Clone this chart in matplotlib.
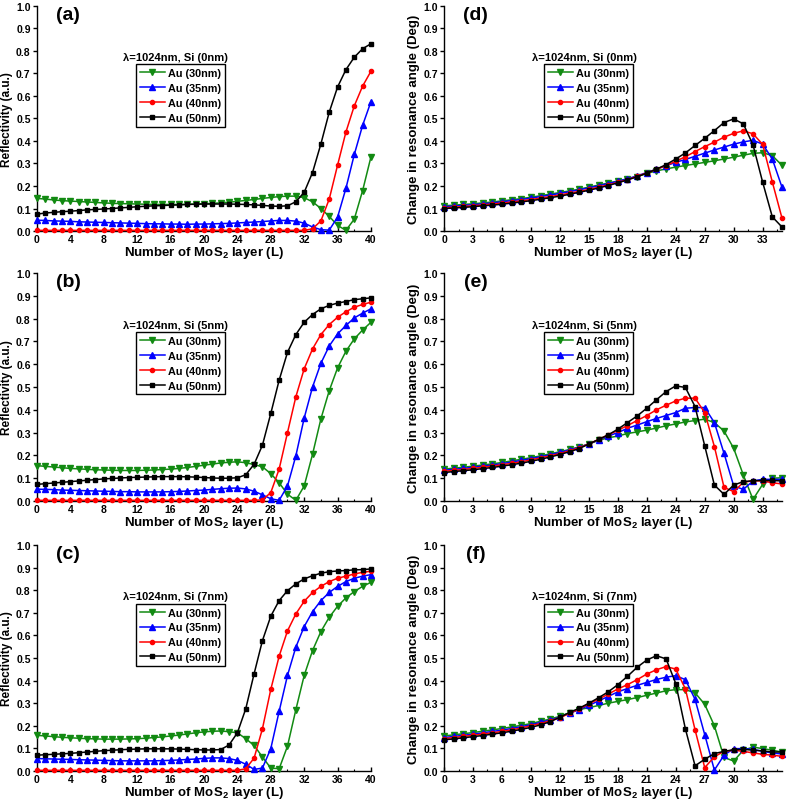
import matplotlib
matplotlib.use("Agg")
import matplotlib.pyplot as plt
from matplotlib.ticker import MultipleLocator

plt.rcParams['font.family'] = ['Liberation Sans', 'DejaVu Sans']
plt.rcParams['font.weight'] = 'bold'
plt.rcParams['axes.labelweight'] = 'bold'
plt.rcParams['mathtext.fontset'] = 'custom'
plt.rcParams['mathtext.rm'] = 'Liberation Sans:bold'
plt.rcParams['mathtext.bf'] = 'Liberation Sans:bold'
plt.rcParams['mathtext.default'] = 'bf'

# layers
layers_r = list(range(41))
layers_a = list(range(36))

labels = ["Au (30nm)", "Au (35nm)", "Au (40nm)", "Au (50nm)"]
si_labels = ["Si (0nm)", "Si (5nm)", "Si (7nm)"]

# ---- reflectivity, Si 0nm (a)
refl_a_30 = [0.145, 0.142, 0.138, 0.135, 0.133, 0.131, 0.129, 0.127, 0.125, 0.123,
             0.122, 0.121, 0.120, 0.119, 0.118, 0.118, 0.118, 0.118, 0.119, 0.120,
             0.121, 0.123, 0.125, 0.128, 0.132, 0.136, 0.140, 0.145, 0.149, 0.153,
             0.155, 0.155, 0.148, 0.130, 0.100, 0.065, 0.025, 0.003, 0.053, 0.180, 0.330]
refl_a_35 = [0.048, 0.047, 0.045, 0.044, 0.043, 0.041, 0.040, 0.039, 0.038, 0.037,
             0.036, 0.035, 0.034, 0.033, 0.032, 0.032, 0.031, 0.031, 0.030, 0.031,
             0.031, 0.032, 0.033, 0.034, 0.036, 0.038, 0.040, 0.042, 0.045, 0.047,
             0.047, 0.044, 0.035, 0.018, 0.006, 0.004, 0.062, 0.190, 0.340, 0.470, 0.575]
refl_a_40 = [0.003] * 33 + [0.010, 0.045, 0.142, 0.293, 0.440, 0.556, 0.644, 0.710]
refl_a_50 = [0.075, 0.080, 0.083, 0.086, 0.088, 0.091, 0.094, 0.096, 0.098, 0.100,
             0.103, 0.105, 0.108, 0.110, 0.112, 0.113, 0.115, 0.116, 0.118, 0.119,
             0.120, 0.120, 0.120, 0.120, 0.119, 0.118, 0.116, 0.114, 0.111, 0.110,
             0.112, 0.130, 0.172, 0.260, 0.387, 0.528, 0.640, 0.717, 0.772, 0.810, 0.832]

# ---- reflectivity, Si 5nm (b)
refl_b_30 = [0.155, 0.152, 0.149, 0.146, 0.143, 0.141, 0.139, 0.137, 0.136, 0.135,
             0.134, 0.134, 0.134, 0.135, 0.136, 0.138, 0.140, 0.143, 0.147, 0.152,
             0.157, 0.162, 0.167, 0.170, 0.172, 0.168, 0.160, 0.150, 0.120, 0.080,
             0.030, 0.003, 0.066, 0.205, 0.360, 0.484, 0.584, 0.657, 0.711, 0.750, 0.784]
refl_b_35 = [0.052, 0.051, 0.050, 0.048, 0.047, 0.046, 0.045, 0.044, 0.043, 0.042,
             0.041, 0.041, 0.040, 0.040, 0.040, 0.040, 0.041, 0.042, 0.044, 0.046,
             0.048, 0.051, 0.054, 0.056, 0.057, 0.053, 0.043, 0.027, 0.010, 0.003,
             0.066, 0.198, 0.364, 0.500, 0.604, 0.680, 0.733, 0.770, 0.803, 0.824, 0.843]
refl_b_40 = [0.003] * 27 + [0.005, 0.037, 0.140, 0.300, 0.457, 0.580, 0.667, 0.730,
                            0.774, 0.806, 0.830, 0.850, 0.862, 0.872]
refl_b_50 = [0.073, 0.076, 0.079, 0.082, 0.085, 0.088, 0.091, 0.094, 0.097, 0.099,
             0.101, 0.103, 0.104, 0.105, 0.106, 0.107, 0.107, 0.107, 0.106, 0.105,
             0.103, 0.101, 0.100, 0.100, 0.102, 0.115, 0.161, 0.245, 0.384, 0.530,
             0.652, 0.730, 0.784, 0.818, 0.843, 0.858, 0.868, 0.875, 0.883, 0.887, 0.891]

# ---- reflectivity, Si 7nm (c)
refl_c_30 = [0.158, 0.155, 0.152, 0.149, 0.147, 0.145, 0.143, 0.142, 0.141, 0.141,
             0.141, 0.142, 0.143, 0.145, 0.148, 0.151, 0.155, 0.159, 0.164, 0.169,
             0.173, 0.176, 0.177, 0.174, 0.169, 0.143, 0.113, 0.062, 0.013, 0.010,
             0.110, 0.271, 0.423, 0.533, 0.617, 0.680, 0.729, 0.766, 0.794, 0.817, 0.835]
refl_c_35 = [0.055, 0.054, 0.053, 0.052, 0.051, 0.050, 0.049, 0.048, 0.047, 0.046,
             0.045, 0.045, 0.045, 0.045, 0.045, 0.046, 0.047, 0.049, 0.051, 0.053,
             0.056, 0.058, 0.058, 0.055, 0.047, 0.030, 0.007, 0.013, 0.099, 0.264,
             0.423, 0.548, 0.639, 0.705, 0.754, 0.790, 0.817, 0.838, 0.853, 0.862, 0.869]
refl_c_40 = [0.003] * 25 + [0.010, 0.057, 0.187, 0.361, 0.508, 0.620, 0.695, 0.751,
                            0.790, 0.817, 0.838, 0.853, 0.862, 0.872, 0.879, 0.884]
refl_c_50 = [0.070, 0.072, 0.074, 0.076, 0.078, 0.081, 0.084, 0.087, 0.090, 0.092,
             0.094, 0.096, 0.097, 0.098, 0.098, 0.098, 0.098, 0.097, 0.096, 0.094,
             0.093, 0.093, 0.095, 0.115, 0.169, 0.275, 0.430, 0.577, 0.685, 0.754,
             0.798, 0.828, 0.850, 0.864, 0.875, 0.882, 0.885, 0.887, 0.890, 0.891, 0.894]

# ---- resonance angle shift, Si 0nm (d)
ang_d_30 = [0.112, 0.115, 0.118, 0.121, 0.125, 0.129, 0.134, 0.139, 0.144, 0.150,
            0.157, 0.164, 0.171, 0.178, 0.186, 0.195, 0.204, 0.213, 0.222, 0.232,
            0.242, 0.256, 0.267, 0.276, 0.284, 0.291, 0.298, 0.305, 0.312, 0.320,
            0.328, 0.337, 0.345, 0.348, 0.335, 0.292]
ang_d_35 = [0.108, 0.111, 0.114, 0.117, 0.121, 0.125, 0.130, 0.135, 0.140, 0.146,
            0.153, 0.160, 0.167, 0.175, 0.183, 0.192, 0.201, 0.211, 0.221, 0.232,
            0.245, 0.260, 0.275, 0.290, 0.305, 0.318, 0.332, 0.346, 0.360, 0.373,
            0.386, 0.396, 0.403, 0.386, 0.320, 0.195]
ang_d_40 = [0.103, 0.106, 0.109, 0.112, 0.116, 0.120, 0.124, 0.129, 0.134, 0.140,
            0.146, 0.153, 0.160, 0.168, 0.176, 0.185, 0.195, 0.205, 0.216, 0.228,
            0.243, 0.258, 0.274, 0.291, 0.310, 0.330, 0.353, 0.375, 0.395, 0.417,
            0.434, 0.445, 0.432, 0.385, 0.218, 0.058]
ang_d_50 = [0.100, 0.102, 0.105, 0.108, 0.112, 0.115, 0.119, 0.124, 0.129, 0.135,
            0.141, 0.148, 0.155, 0.163, 0.172, 0.181, 0.191, 0.202, 0.214, 0.227,
            0.241, 0.257, 0.275, 0.295, 0.320, 0.347, 0.380, 0.412, 0.446, 0.482,
            0.498, 0.476, 0.383, 0.217, 0.063, 0.018]

# ---- resonance angle shift, Si 5nm (e)
ang_e_30 = [0.140, 0.144, 0.148, 0.153, 0.158, 0.163, 0.169, 0.176, 0.183, 0.190,
            0.198, 0.207, 0.216, 0.226, 0.237, 0.250, 0.266, 0.277, 0.285, 0.296,
            0.303, 0.311, 0.320, 0.330, 0.338, 0.347, 0.353, 0.359, 0.344, 0.307,
            0.231, 0.114, 0.007, 0.073, 0.100, 0.102]
ang_e_35 = [0.135, 0.139, 0.143, 0.148, 0.153, 0.158, 0.164, 0.171, 0.178, 0.186,
            0.194, 0.203, 0.213, 0.224, 0.236, 0.250, 0.268, 0.285, 0.300, 0.319,
            0.333, 0.348, 0.362, 0.375, 0.388, 0.407, 0.410, 0.410, 0.344, 0.209,
            0.066, 0.051, 0.088, 0.095, 0.095, 0.095]
ang_e_40 = [0.130, 0.134, 0.138, 0.143, 0.148, 0.153, 0.159, 0.165, 0.172, 0.180,
            0.189, 0.198, 0.208, 0.220, 0.234, 0.250, 0.270, 0.290, 0.310, 0.331,
            0.353, 0.375, 0.400, 0.420, 0.439, 0.451, 0.451, 0.388, 0.239, 0.060,
            0.041, 0.082, 0.089, 0.088, 0.080, 0.075]
ang_e_50 = [0.125, 0.129, 0.133, 0.137, 0.142, 0.147, 0.153, 0.159, 0.166, 0.174,
            0.183, 0.193, 0.204, 0.216, 0.230, 0.250, 0.270, 0.290, 0.315, 0.344,
            0.373, 0.407, 0.444, 0.480, 0.505, 0.498, 0.414, 0.242, 0.070, 0.029,
            0.070, 0.085, 0.089, 0.090, 0.090, 0.088]

# ---- resonance angle shift, Si 7nm (f)
ang_f_30 = [0.155, 0.160, 0.165, 0.170, 0.176, 0.182, 0.188, 0.195, 0.202, 0.210,
            0.220, 0.230, 0.242, 0.258, 0.272, 0.280, 0.290, 0.300, 0.308, 0.316,
            0.325, 0.335, 0.345, 0.355, 0.360, 0.360, 0.346, 0.295, 0.200, 0.060,
            0.044, 0.092, 0.106, 0.099, 0.092, 0.084]
ang_f_35 = [0.148, 0.153, 0.158, 0.163, 0.169, 0.175, 0.181, 0.188, 0.196, 0.205,
            0.215, 0.226, 0.238, 0.255, 0.272, 0.290, 0.310, 0.330, 0.350, 0.365,
            0.379, 0.392, 0.405, 0.415, 0.422, 0.404, 0.317, 0.161, 0.004, 0.070,
            0.099, 0.099, 0.096, 0.087, 0.080, 0.075]
ang_f_40 = [0.143, 0.148, 0.153, 0.158, 0.163, 0.169, 0.175, 0.182, 0.190, 0.200,
            0.210, 0.222, 0.236, 0.255, 0.275, 0.297, 0.318, 0.340, 0.363, 0.382,
            0.404, 0.429, 0.448, 0.462, 0.451, 0.363, 0.182, 0.015, 0.063, 0.087,
            0.092, 0.087, 0.080, 0.074, 0.070, 0.065]
ang_f_50 = [0.138, 0.142, 0.147, 0.152, 0.157, 0.163, 0.169, 0.176, 0.184, 0.193,
            0.204, 0.218, 0.238, 0.259, 0.278, 0.300, 0.324, 0.350, 0.382, 0.419,
            0.459, 0.491, 0.510, 0.496, 0.387, 0.186, 0.023, 0.052, 0.077, 0.087,
            0.094, 0.096, 0.092, 0.089, 0.084, 0.084]

colors = ["#128a12", "#0000ff", "#ff0000", "#000000"]
markers = ["v", "^", "o", "s"]
msizes = [4.5, 4.5, 3.0, 3.5]


def draw_panel(ax, x, series, tag, si, ylabel, ylsize, xmax, xstep):
    for y, c, m, ms, lab in zip(series, colors, markers, msizes, labels):
        ax.plot(x, y, color=c, marker=m, markersize=ms, lw=1.1,
                label=lab, clip_on=False, zorder=3)
    ax.set_xlim(0, xmax)
    ax.set_ylim(0, 1.0)
    ax.xaxis.set_major_locator(MultipleLocator(xstep))
    ax.xaxis.set_minor_locator(MultipleLocator(xstep / 2))
    ax.yaxis.set_major_locator(MultipleLocator(0.1))
    ax.spines['top'].set_visible(False)
    ax.spines['right'].set_visible(False)
    ax.spines['left'].set_linewidth(1.0)
    ax.spines['bottom'].set_linewidth(1.0)
    ax.tick_params(axis='y', which='major', direction='out', length=3,
                   width=1, pad=1.5)
    ax.tick_params(axis='x', which='major', direction='in', length=3,
                   width=1, pad=2)
    ax.tick_params(axis='x', which='minor', direction='in', length=1.8, width=0.8)
    for t in ax.get_xticklabels() + ax.get_yticklabels():
        t.set_fontsize(7.5)
        t.set_fontweight('bold')
    ax.set_xlabel("Number of MoS$_2$ layer (L)", fontsize=9.5,
                  fontweight='bold', labelpad=0)
    ax.set_ylabel(ylabel, fontsize=ylsize, fontweight='bold', labelpad=2)
    ax.text(0.093, 0.962, tag, transform=ax.transAxes, fontsize=14,
            fontweight='bold', ha='center', va='center')
    ax.text(0.415, 0.773, "\u03bb=1024nm, " + si, transform=ax.transAxes,
            fontsize=8, fontweight='bold', ha='center', va='center')
    leg = ax.legend(loc='upper left', bbox_to_anchor=(0.296, 0.74),
                    prop={'size': 7.8, 'weight': 'bold'}, numpoints=1,
                    handlelength=2.3, handletextpad=0.3, labelspacing=0.45,
                    borderpad=0.35, fancybox=False, framealpha=1,
                    edgecolor='black', borderaxespad=0)
    leg.get_frame().set_linewidth(1.0)


def main():
    fig = plt.figure(figsize=(7.87, 8.04), dpi=100)
    rows_y = [(0.7114, 0.2800), (0.3756, 0.2836), (0.0398, 0.2811)]
    left_x = (0.047, 0.4244)
    right_x = (0.5642, 0.4294)

    refl = [[refl_a_30, refl_a_35, refl_a_40, refl_a_50],
            [refl_b_30, refl_b_35, refl_b_40, refl_b_50],
            [refl_c_30, refl_c_35, refl_c_40, refl_c_50]]
    ang = [[ang_d_30, ang_d_35, ang_d_40, ang_d_50],
           [ang_e_30, ang_e_35, ang_e_40, ang_e_50],
           [ang_f_30, ang_f_35, ang_f_40, ang_f_50]]
    tags_l = ["(a)", "(b)", "(c)"]
    tags_r = ["(d)", "(e)", "(f)"]

    for i in range(3):
        b, h = rows_y[i]
        ax = fig.add_axes([left_x[0], b, left_x[1], h])
        draw_panel(ax, layers_r, refl[i], tags_l[i], si_labels[i],
                   "Reflectivity (a.u.)", 8.5, 40, 4)
        ax2 = fig.add_axes([right_x[0], b, right_x[1], h])
        draw_panel(ax2, layers_a, ang[i], tags_r[i], si_labels[i],
                   "Change in resonance angle (Deg)", 9.5, 35, 3)

    fig.savefig("out.png", dpi=100)


if __name__ == "__main__":
    main()
